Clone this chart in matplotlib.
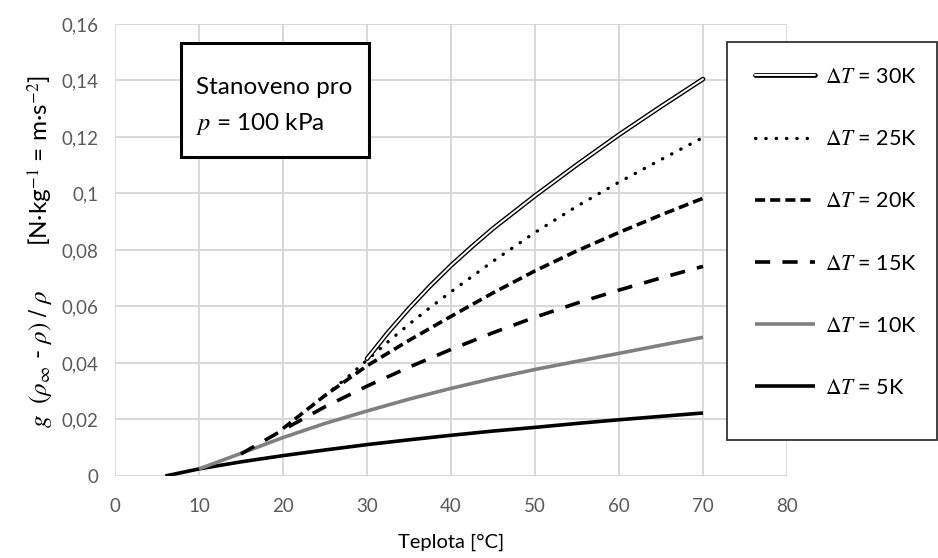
import numpy as np
import matplotlib.pyplot as plt
from matplotlib.patches import Rectangle

plt.rcParams['font.family'] = ['Lato', 'DejaVu Sans']
plt.rcParams['mathtext.fontset'] = 'stix'

# values
temp_5 = [6, 10, 15, 20, 25, 30, 35, 40, 45, 50, 55, 60, 65, 70]
g_5 = [0, 0.0025, 0.0050, 0.0072, 0.0092, 0.0111, 0.0128, 0.0144, 0.0159, 0.0172, 0.0186, 0.0199, 0.0211, 0.0223]

temp_10 = [10, 15, 20, 25, 30, 35, 40, 45, 50, 55, 60, 65, 70]
g_10 = [0.0025, 0.0080, 0.0136, 0.0186, 0.0230, 0.0272, 0.0310, 0.0345, 0.0377, 0.0406, 0.0434, 0.0463, 0.0491]

temp_15 = [15, 20, 25, 30, 35, 40, 45, 50, 55, 60, 65, 70]
g_15 = [0.0078, 0.0163, 0.0245, 0.0318, 0.0385, 0.0448, 0.0507, 0.0562, 0.0612, 0.0658, 0.0701, 0.0742]

temp_20 = [20, 25, 30, 35, 40, 45, 50, 55, 60, 65, 70]
g_20 = [0.0168, 0.0285, 0.0390, 0.0480, 0.0565, 0.0648, 0.0726, 0.0797, 0.0862, 0.0924, 0.0983]

temp_25 = [25, 27.5, 30, 32.5, 35, 37.5, 40, 45, 50, 55, 60, 65, 70]
g_25 = [0.0285, 0.0345, 0.0410, 0.0475, 0.0537, 0.0596, 0.0652, 0.0760, 0.0862, 0.0955, 0.1040, 0.1120, 0.1198]

temp_30 = [30, 32.5, 35, 37.5, 40, 42.5, 45, 50, 55, 60, 65, 70]
g_30 = [0.0415, 0.0508, 0.0593, 0.0672, 0.0745, 0.0812, 0.0876, 0.0992, 0.1102, 0.1208, 0.1308, 0.1405]

xticks = [0, 10, 20, 30, 40, 50, 60, 70, 80]
yticks = [0, 0.02, 0.04, 0.06, 0.08, 0.10, 0.12, 0.14, 0.16]
ytick_labels = ['0', '0,02', '0,04', '0,06', '0,08', '0,1', '0,12', '0,14', '0,16']
labels = [r'$\Delta T$ = 30K', r'$\Delta T$ = 25K', r'$\Delta T$ = 20K',
          r'$\Delta T$ = 15K', r'$\Delta T$ = 10K', r'$\Delta T$ = 5K']

fig = plt.figure(figsize=(9.38, 5.58), dpi=100)
ax = fig.add_axes([0.1226, 0.147, 0.7164, 0.810])

l5, = ax.plot(temp_5, g_5, color='black', lw=2.6, solid_capstyle='butt')
l10, = ax.plot(temp_10, g_10, color='#808080', lw=2.6, solid_capstyle='butt')
l15, = ax.plot(temp_15, g_15, color='black', lw=2.6, linestyle=(0, (4.2, 3.4)))
l20, = ax.plot(temp_20, g_20, color='black', lw=2.6, linestyle=(0, (2.8, 1.4)))
l25, = ax.plot(temp_25, g_25, color='black', lw=2.4, linestyle=(0, (0.1, 3.0)),
               dash_capstyle='round')
l30a, = ax.plot(temp_30, g_30, color='black', lw=3.4, solid_capstyle='round')
l30b, = ax.plot(temp_30, g_30, color='white', lw=1.4, solid_capstyle='round')

ax.set_xlim(0, 80)
ax.set_ylim(0, 0.16)
ax.set_xticks(xticks)
ax.set_yticks(yticks)
ax.set_yticklabels(ytick_labels)
ax.grid(True, color='#d6d6d6', lw=1.3)
ax.set_axisbelow(True)
for s in ax.spines.values():
    s.set_visible(False)
ax.tick_params(length=0, labelsize=13.5, labelcolor='#595959')
ax.tick_params(axis='y', pad=12)
ax.tick_params(axis='x', pad=16)

ax.set_xlabel('Teplota [°C]', fontsize=14.5, labelpad=13)
# y label in two parts: formula and unit
fig.text(0.043, 0.357, r'$g\ \ (\rho_\infty$ - $\rho)\ /\ \rho$',
         rotation=90, fontsize=18, ha='center', va='center')
fig.text(0.043, 0.712, '[N·kg$^{-1}$ = m·s$^{-2}$]',
         rotation=90, fontsize=17.5, ha='center', va='center')

# legend frame drawn by hand, entries placed inside it
fig.patches.append(Rectangle((727 / 938, 1 - 440 / 558), 210 / 938, 398 / 558,
                             transform=fig.transFigure, facecolor='white',
                             edgecolor='#333333', lw=1.3, zorder=3))
leg = fig.legend([(l30a, l30b), l25, l20, l15, l10, l5], labels,
                 loc='upper left', bbox_to_anchor=(755 / 938, 1 - 67 / 558),
                 fontsize=15.5, frameon=False, handlelength=2.8,
                 handletextpad=0.45, labelspacing=1.96, borderpad=0,
                 borderaxespad=0)
leg.set_zorder(4)

# note box
fig.patches.append(Rectangle((0.193, 0.7186), 0.2004, 0.2043, transform=fig.transFigure,
                             fill=True, facecolor='white', edgecolor='black', lw=2.2))
fig.text(0.209, 0.843, 'Stanoveno pro', fontsize=17.5, va='center')
fig.text(0.209, 0.778, r'$p$ = 100 kPa', fontsize=17.5, va='center')

fig.savefig('out.png', dpi=100)
